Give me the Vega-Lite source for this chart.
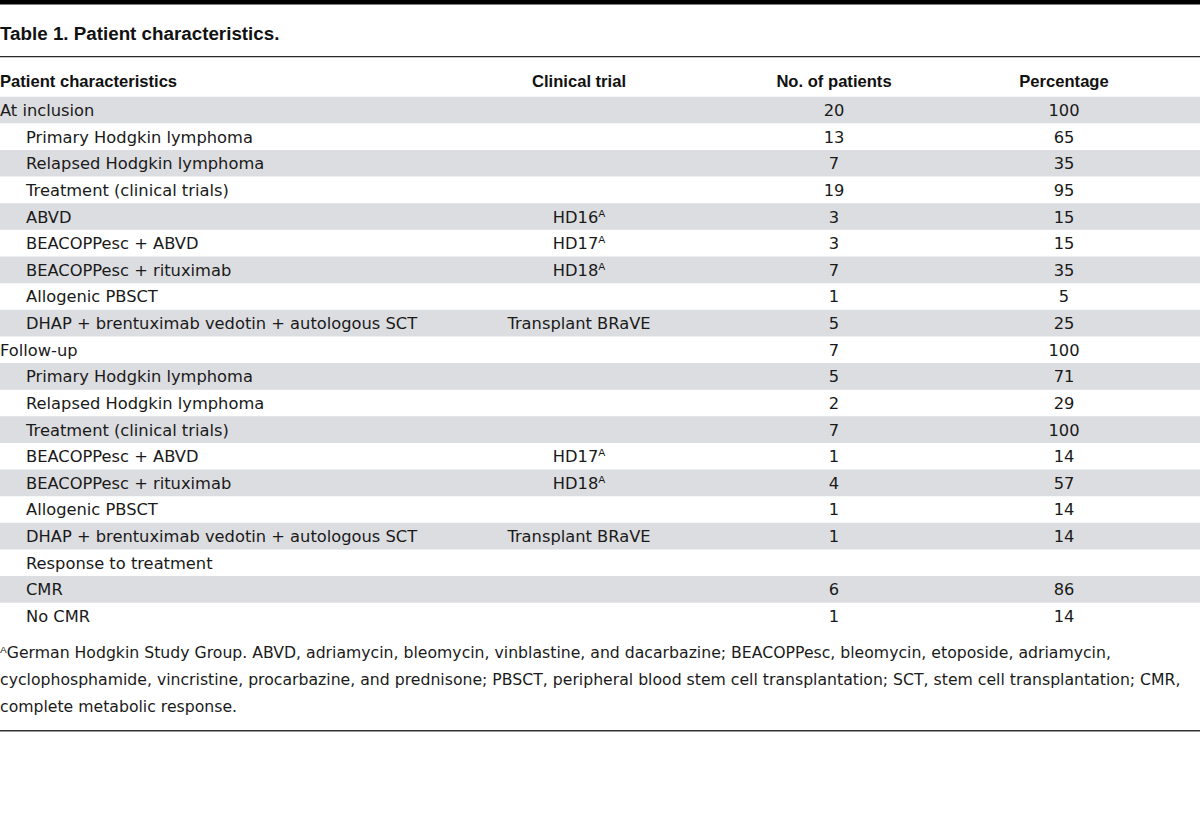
{
  "$schema": "https://vega.github.io/schema/vega-lite/v6.json",
  "padding": 0,
  "spacing": 0,
  "bounds": "flush",
  "background": "white",
  "config": {"view": {"stroke": null}, "concat": {"spacing": 0}},
  "resolve": {"scale": {"x": "independent", "y": "independent"}},
  "datasets": {
    "rows": [
      {"row": 1, "level": "group", "characteristic": "At inclusion", "trial": null, "n": 20, "pct": 100},
      {"row": 2, "level": "item", "characteristic": "Primary Hodgkin lymphoma", "trial": null, "n": 13, "pct": 65},
      {"row": 3, "level": "item", "characteristic": "Relapsed Hodgkin lymphoma", "trial": null, "n": 7, "pct": 35},
      {"row": 4, "level": "item", "characteristic": "Treatment (clinical trials)", "trial": null, "n": 19, "pct": 95},
      {"row": 5, "level": "item", "characteristic": "ABVD", "trial": "HD16ᴬ", "n": 3, "pct": 15},
      {"row": 6, "level": "item", "characteristic": "BEACOPPesc + ABVD", "trial": "HD17ᴬ", "n": 3, "pct": 15},
      {"row": 7, "level": "item", "characteristic": "BEACOPPesc + rituximab", "trial": "HD18ᴬ", "n": 7, "pct": 35},
      {"row": 8, "level": "item", "characteristic": "Allogenic PBSCT", "trial": null, "n": 1, "pct": 5},
      {"row": 9, "level": "item", "characteristic": "DHAP + brentuximab vedotin + autologous SCT", "trial": "Transplant BRaVE", "n": 5, "pct": 25},
      {"row": 10, "level": "group", "characteristic": "Follow-up", "trial": null, "n": 7, "pct": 100},
      {"row": 11, "level": "item", "characteristic": "Primary Hodgkin lymphoma", "trial": null, "n": 5, "pct": 71},
      {"row": 12, "level": "item", "characteristic": "Relapsed Hodgkin lymphoma", "trial": null, "n": 2, "pct": 29},
      {"row": 13, "level": "item", "characteristic": "Treatment (clinical trials)", "trial": null, "n": 7, "pct": 100},
      {"row": 14, "level": "item", "characteristic": "BEACOPPesc + ABVD", "trial": "HD17ᴬ", "n": 1, "pct": 14},
      {"row": 15, "level": "item", "characteristic": "BEACOPPesc + rituximab", "trial": "HD18ᴬ", "n": 4, "pct": 57},
      {"row": 16, "level": "item", "characteristic": "Allogenic PBSCT", "trial": null, "n": 1, "pct": 14},
      {"row": 17, "level": "item", "characteristic": "DHAP + brentuximab vedotin + autologous SCT", "trial": "Transplant BRaVE", "n": 1, "pct": 14},
      {"row": 18, "level": "item", "characteristic": "Response to treatment", "trial": null, "n": null, "pct": null},
      {"row": 19, "level": "item", "characteristic": "CMR", "trial": null, "n": 6, "pct": 86},
      {"row": 20, "level": "item", "characteristic": "No CMR", "trial": null, "n": 1, "pct": 14}
    ]
  },
  "hconcat": [
    {
      "width": 460, "height": 833,
      "layer": [
        {"data": {"name": "rows"}, "transform": [{"filter": "datum.row % 2 == 1"}], "mark": {"type": "rect", "color": "#dcdde0", "yOffset": -13.35, "y2Offset": 13.35}, "encoding": {"y": {"field": "row", "type": "quantitative", "scale": {"domain": [-3.1307, 28.15], "reverse": true, "nice": false, "zero": false}, "axis": null}, "y2": {"field": "row"}}},
        {"data": {"values": [{}]}, "mark": {"type": "rect", "color": "#000000"}, "encoding": {"y": {"datum": -3.1307, "type": "quantitative"}, "y2": {"datum": -2.9617}}},
        {"data": {"values": [{}]}, "mark": {"type": "rect", "color": "#2a2a2a"}, "encoding": {"y": {"datum": -1.0259, "type": "quantitative"}, "y2": {"datum": -0.9771}}},
        {"data": {"values": [{}]}, "mark": {"type": "rect", "color": "#333333"}, "encoding": {"y": {"datum": 24.282, "type": "quantitative"}, "y2": {"datum": 24.335}}},
        {"data": {"values": [{"title": "Table 1. Patient characteristics."}]}, "mark": {"type": "text", "align": "left", "baseline": "alphabetic", "font": "Liberation Sans", "fontWeight": "bold", "fontSize": 18.8, "color": "#111111"}, "encoding": {"x": {"datum": "group", "type": "nominal", "scale": {"type": "point", "domain": ["group", "item"], "range": [0, 26], "padding": 0}, "axis": null}, "y": {"datum": -1.6286, "type": "quantitative"}, "text": {"field": "title", "type": "nominal"}}},
        {"data": {"values": [{"header": "Patient characteristics"}]}, "mark": {"type": "text", "align": "left", "baseline": "middle", "dy": -1, "font": "Liberation Sans", "fontWeight": "bold", "fontSize": 16.6, "color": "#111111"}, "encoding": {"x": {"datum": "group", "type": "nominal"}, "y": {"datum": 0, "type": "quantitative"}, "text": {"field": "header", "type": "nominal"}}},
        {"data": {"name": "rows"}, "mark": {"type": "text", "align": "left", "baseline": "middle", "dy": 1, "font": "DejaVu Sans", "fontSize": 16.3, "color": "#1a1a1a"}, "encoding": {"x": {"field": "level", "type": "nominal"}, "y": {"field": "row", "type": "quantitative"}, "text": {"field": "characteristic", "type": "nominal"}}},
        {"data": {"values": [{"note": "ᴬGerman Hodgkin Study Group. ABVD, adriamycin, bleomycin, vinblastine, and dacarbazine; BEACOPPesc, bleomycin, etoposide, adriamycin,\ncyclophosphamide, vincristine, procarbazine, and prednisone; PBSCT, peripheral blood stem cell transplantation; SCT, stem cell transplantation; CMR,\ncomplete metabolic response."}]}, "mark": {"type": "text", "align": "left", "baseline": "alphabetic", "lineBreak": "\n", "lineHeight": 27, "font": "DejaVu Sans", "fontSize": 15.7, "color": "#1a1a1a"}, "encoding": {"x": {"datum": "group", "type": "nominal"}, "y": {"datum": 21.567, "type": "quantitative"}, "text": {"field": "note", "type": "nominal"}}}
      ]
    },
    {
      "width": 238, "height": 833,
      "layer": [
        {"data": {"name": "rows"}, "transform": [{"filter": "datum.row % 2 == 1"}], "mark": {"type": "rect", "color": "#dcdde0", "yOffset": -13.35, "y2Offset": 13.35}, "encoding": {"y": {"field": "row", "type": "quantitative", "scale": {"domain": [-3.1307, 28.15], "reverse": true, "nice": false, "zero": false}, "axis": null}, "y2": {"field": "row"}}},
        {"data": {"values": [{}]}, "mark": {"type": "rect", "color": "#000000"}, "encoding": {"y": {"datum": -3.1307, "type": "quantitative"}, "y2": {"datum": -2.9617}}},
        {"data": {"values": [{}]}, "mark": {"type": "rect", "color": "#2a2a2a"}, "encoding": {"y": {"datum": -1.0259, "type": "quantitative"}, "y2": {"datum": -0.9771}}},
        {"data": {"values": [{}]}, "mark": {"type": "rect", "color": "#333333"}, "encoding": {"y": {"datum": 24.282, "type": "quantitative"}, "y2": {"datum": 24.335}}},
        {"data": {"values": [{"header": "Clinical trial"}]}, "mark": {"type": "text", "align": "center", "baseline": "middle", "dy": -1, "font": "Liberation Sans", "fontWeight": "bold", "fontSize": 16.6, "color": "#111111"}, "encoding": {"y": {"datum": 0, "type": "quantitative"}, "text": {"field": "header", "type": "nominal"}}},
        {"data": {"name": "rows"}, "transform": [{"filter": "datum.trial != null"}], "mark": {"type": "text", "align": "center", "baseline": "middle", "dy": 1, "font": "DejaVu Sans", "fontSize": 16.3, "color": "#1a1a1a"}, "encoding": {"y": {"field": "row", "type": "quantitative"}, "text": {"field": "trial", "type": "nominal"}}}
      ]
    },
    {
      "width": 272, "height": 833,
      "layer": [
        {"data": {"name": "rows"}, "transform": [{"filter": "datum.row % 2 == 1"}], "mark": {"type": "rect", "color": "#dcdde0", "yOffset": -13.35, "y2Offset": 13.35}, "encoding": {"y": {"field": "row", "type": "quantitative", "scale": {"domain": [-3.1307, 28.15], "reverse": true, "nice": false, "zero": false}, "axis": null}, "y2": {"field": "row"}}},
        {"data": {"values": [{}]}, "mark": {"type": "rect", "color": "#000000"}, "encoding": {"y": {"datum": -3.1307, "type": "quantitative"}, "y2": {"datum": -2.9617}}},
        {"data": {"values": [{}]}, "mark": {"type": "rect", "color": "#2a2a2a"}, "encoding": {"y": {"datum": -1.0259, "type": "quantitative"}, "y2": {"datum": -0.9771}}},
        {"data": {"values": [{}]}, "mark": {"type": "rect", "color": "#333333"}, "encoding": {"y": {"datum": 24.282, "type": "quantitative"}, "y2": {"datum": 24.335}}},
        {"data": {"values": [{"header": "No. of patients"}]}, "mark": {"type": "text", "align": "center", "baseline": "middle", "dy": -1, "font": "Liberation Sans", "fontWeight": "bold", "fontSize": 16.6, "color": "#111111"}, "encoding": {"y": {"datum": 0, "type": "quantitative"}, "text": {"field": "header", "type": "nominal"}}},
        {"data": {"name": "rows"}, "transform": [{"filter": "datum.n != null"}], "mark": {"type": "text", "align": "center", "baseline": "middle", "dy": 1, "font": "DejaVu Sans", "fontSize": 16.3, "color": "#1a1a1a"}, "encoding": {"y": {"field": "row", "type": "quantitative"}, "text": {"field": "n", "type": "nominal"}}}
      ]
    },
    {
      "width": 188, "height": 833,
      "layer": [
        {"data": {"name": "rows"}, "transform": [{"filter": "datum.row % 2 == 1"}], "mark": {"type": "rect", "color": "#dcdde0", "yOffset": -13.35, "y2Offset": 13.35}, "encoding": {"y": {"field": "row", "type": "quantitative", "scale": {"domain": [-3.1307, 28.15], "reverse": true, "nice": false, "zero": false}, "axis": null}, "y2": {"field": "row"}}},
        {"data": {"values": [{}]}, "mark": {"type": "rect", "color": "#000000"}, "encoding": {"y": {"datum": -3.1307, "type": "quantitative"}, "y2": {"datum": -2.9617}}},
        {"data": {"values": [{}]}, "mark": {"type": "rect", "color": "#2a2a2a"}, "encoding": {"y": {"datum": -1.0259, "type": "quantitative"}, "y2": {"datum": -0.9771}}},
        {"data": {"values": [{}]}, "mark": {"type": "rect", "color": "#333333"}, "encoding": {"y": {"datum": 24.282, "type": "quantitative"}, "y2": {"datum": 24.335}}},
        {"data": {"values": [{"header": "Percentage"}]}, "mark": {"type": "text", "align": "center", "baseline": "middle", "dy": -1, "font": "Liberation Sans", "fontWeight": "bold", "fontSize": 16.6, "color": "#111111"}, "encoding": {"y": {"datum": 0, "type": "quantitative"}, "text": {"field": "header", "type": "nominal"}}},
        {"data": {"name": "rows"}, "transform": [{"filter": "datum.pct != null"}], "mark": {"type": "text", "align": "center", "baseline": "middle", "dy": 1, "font": "DejaVu Sans", "fontSize": 16.3, "color": "#1a1a1a"}, "encoding": {"y": {"field": "row", "type": "quantitative"}, "text": {"field": "pct", "type": "nominal"}}}
      ]
    },
    {
      "width": 42, "height": 833,
      "layer": [
        {"data": {"name": "rows"}, "transform": [{"filter": "datum.row % 2 == 1"}], "mark": {"type": "rect", "color": "#dcdde0", "yOffset": -13.35, "y2Offset": 13.35}, "encoding": {"y": {"field": "row", "type": "quantitative", "scale": {"domain": [-3.1307, 28.15], "reverse": true, "nice": false, "zero": false}, "axis": null}, "y2": {"field": "row"}}},
        {"data": {"values": [{}]}, "mark": {"type": "rect", "color": "#000000"}, "encoding": {"y": {"datum": -3.1307, "type": "quantitative"}, "y2": {"datum": -2.9617}}},
        {"data": {"values": [{}]}, "mark": {"type": "rect", "color": "#2a2a2a"}, "encoding": {"y": {"datum": -1.0259, "type": "quantitative"}, "y2": {"datum": -0.9771}}},
        {"data": {"values": [{}]}, "mark": {"type": "rect", "color": "#333333"}, "encoding": {"y": {"datum": 24.282, "type": "quantitative"}, "y2": {"datum": 24.335}}}
      ]
    }
  ]
}
